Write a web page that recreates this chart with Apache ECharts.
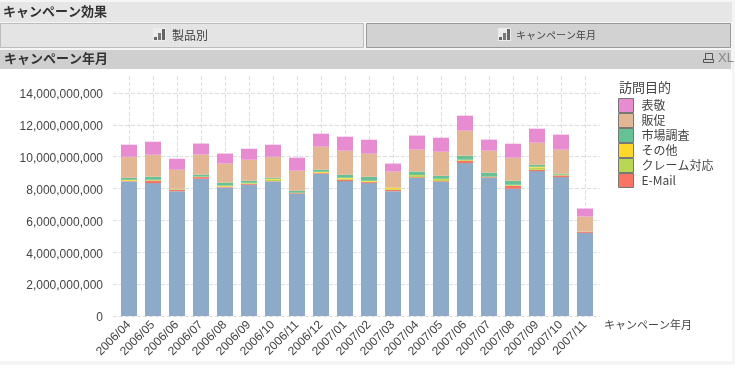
<!DOCTYPE html>
<html>
<head>
<meta charset="utf-8">
<title>キャンペーン効果</title>
<style>
html, body { margin: 0; padding: 0; background: #f5f5f5; }
#chart { width: 735px; height: 365px; }
</style>
<script src="https://cdn.jsdelivr.net/npm/echarts@6/dist/echarts.min.js"></script>
</head>
<body>
<div id="chart"></div>
<script>
// 値はすべて百万単位で読み取り
const months = ['2006/04', '2006/05', '2006/06', '2006/07', '2006/08', '2006/09', '2006/10', '2006/11', '2006/12', '2007/01',
    '2007/02', '2007/03', '2007/04', '2007/05', '2007/06', '2007/07', '2007/08', '2007/09', '2007/10', '2007/11'];
const baseVisit = [8447, 8342, 7839, 8615, 8070, 8237, 8447, 7671, 8929, 8468, 8342, 7839, 8677, 8426, 9600, 8677, 7986, 9097, 8719, 5220];
const email = [21, 147, 84, 105, 42, 63, 21, 42, 42, 84, 63, 84, 42, 42, 147, 42, 189, 84, 105, 63];
const claim = [21, 42, 30, 21, 10, 42, 84, 21, 21, 63, 21, 42, 126, 126, 42, 5, 42, 126, 42, 5];
const other = [63, 21, 10, 10, 63, 21, 63, 5, 63, 63, 63, 84, 10, 21, 21, 21, 21, 63, 5, 5];
const research = [126, 189, 21, 126, 189, 126, 63, 126, 126, 189, 252, 10, 210, 189, 252, 252, 252, 126, 63, 10];
const promo = [1320, 1383, 1195, 1258, 1195, 1320, 1320, 1258, 1446, 1509, 1446, 1006, 1383, 1509, 1572, 1383, 1446, 1383, 1509, 943];
const courtesy = [755, 817, 692, 692, 629, 692, 755, 817, 817, 880, 880, 503, 880, 880, 943, 692, 880, 880, 943, 503];

const legendOrder = ['表敬', '販促', '市場調査', 'その他', 'クレーム対応', 'E-Mail'];
const yTicks = [0, 2e9, 14e9];

const FONT = '"Noto Sans CJK JP", sans-serif';
const LATIN = '"Liberation Sans", Arial, sans-serif';
const INK = '#444';

function stacked(name, values, color) {
    return {
        name: name,
        type: 'bar',
        stack: 'visit',
        xAxisIndex: 0,
        yAxisIndex: 0,
        barWidth: 16,
        itemStyle: {color: color},
        emphasis: {disabled: true},
        data: values.map(function (v) { return v * 1e6; })
    };
}

function barIcon(x, y) {
    return [
        {type: 'rect', shape: {x: x, y: y, width: 13, height: 13}, style: {fill: '#ececec'}},
        {type: 'rect', shape: {x: x + 1, y: y + 9, width: 3, height: 3}, style: {fill: '#666'}},
        {type: 'rect', shape: {x: x + 5, y: y + 5, width: 3, height: 7}, style: {fill: '#777'}},
        {type: 'rect', shape: {x: x + 9, y: y + 1, width: 3, height: 11}, style: {fill: '#666'}}
    ];
}

function label(text, x, y, size, weight, color, font) {
    return {
        type: 'text', x: x, y: y,
        style: {text: text, fontSize: size, fontWeight: weight || 'normal', fill: color || INK, fontFamily: font || FONT, textVerticalAlign: 'middle'}
    };
}

const chrome = [
    {type: 'rect', silent: true, shape: {x: 0, y: 2, width: 732, height: 20}, style: {fill: '#e6e6e6'}},
    {type: 'rect', silent: true, shape: {x: 0.5, y: 23.5, width: 363, height: 24}, style: {fill: '#e4e4e4', stroke: '#bdbdbd', lineWidth: 1}},
    {type: 'rect', silent: true, shape: {x: 366.5, y: 23.5, width: 364, height: 24}, style: {fill: '#d2d2d2', stroke: '#999', lineWidth: 1}},
    {type: 'rect', silent: true, shape: {x: 0, y: 50, width: 731, height: 19}, style: {fill: '#cfcfcf'}},
    {type: 'rect', silent: true, shape: {x: 0, y: 69, width: 732, height: 292}, style: {fill: '#fff'}},
    label('キャンペーン効果', 3, 11, 13, 'bold', '#333'),
    label('製品別', 172, 35, 12),
    label('キャンペーン年月', 516, 35, 10),
    label('キャンペーン年月', 4, 58, 13, 'bold', '#333'),
    label('訪問目的', 619, 87, 13),
    label('XL', 718, 58, 13, 'normal', '#888', '"Liberation Sans Narrow", "Liberation Sans", sans-serif'),
    {type: 'rect', shape: {x: 705.5, y: 53.5, width: 7, height: 6}, style: {fill: 'none', stroke: '#555', lineWidth: 1}},
    {type: 'rect', shape: {x: 703.5, y: 59.5, width: 10, height: 3}, style: {fill: 'none', stroke: '#555', lineWidth: 1}}
].concat(barIcon(153, 28), barIcon(498, 28));

const myChart = echarts.init(document.getElementById('chart'));
myChart.setOption({
    animation: false,
    backgroundColor: '#f5f5f5',
    textStyle: {fontFamily: FONT},
    graphic: {elements: chrome.map(function (el) { el.z = -10; return el; })},
    legend: {
        orient: 'vertical',
        left: 618,
        top: 98,
        padding: 0,
        itemWidth: 15,
        itemHeight: 14,
        itemGap: 0,
        icon: 'rect',
        data: legendOrder,
        selectedMode: false,
        itemStyle: {borderColor: '#777', borderWidth: 1},
        textStyle: {fontSize: 12, lineHeight: 14, color: INK, fontFamily: FONT, padding: [0, 0, 0, 3]}
    },
    grid: [
        {left: 117, width: 480, top: 93, height: 223},  // bars
        {left: 113, width: 487, top: 93, height: 223},  // horizontal lines, y labels
        {left: 129, width: 456, top: 76, height: 240}   // vertical lines on bar centres
    ],
    xAxis: [
        {
            gridIndex: 0,
            type: 'category',
            data: months,
            axisLine: {show: false},
            axisTick: {show: false},
            axisLabel: {rotate: 45, interval: 0, fontSize: 12, color: INK, fontFamily: LATIN, margin: 7},
            name: 'キャンペーン年月',
            nameLocation: 'end',
            nameGap: 7,
            nameTextStyle: {fontSize: 11, color: INK, fontFamily: FONT, verticalAlign: 'top', padding: [3, 0, 0, 0]}
        },
        {gridIndex: 1, type: 'value', min: 0, max: 1, show: false},
        {
            gridIndex: 2,
            type: 'category',
            data: months,
            boundaryGap: false,
            axisLine: {show: false},
            axisTick: {show: false},
            axisLabel: {show: false},
            splitLine: {show: true, interval: 0, lineStyle: {color: '#ddd', type: 'dashed', width: 1}}
        }
    ],
    yAxis: [
        {gridIndex: 0, type: 'value', min: yTicks[0], max: yTicks[2], interval: yTicks[1], show: false},
        {
            gridIndex: 1,
            type: 'value',
            min: yTicks[0],
            max: yTicks[2],
            interval: yTicks[1],
            axisLine: {show: false},
            axisTick: {show: false},
            axisLabel: {fontSize: 12, color: INK, fontFamily: LATIN, margin: 10, verticalAlign: 'top', lineHeight: 4},
            splitLine: {show: true, lineStyle: {color: '#ddd', type: 'dashed', width: 1}}
        },
        {gridIndex: 2, type: 'value', min: 0, max: 1, show: false}
    ],
    series: [
        stacked('訪問', baseVisit, '#8eaac9'),
        stacked('E-Mail', email, '#fa7465'),
        stacked('クレーム対応', claim, '#b9d752'),
        stacked('その他', other, '#fdd82b'),
        stacked('市場調査', research, '#66c195'),
        stacked('販促', promo, '#e3b694'),
        stacked('表敬', courtesy, '#e88cd2')
    ]
});
</script>
</body>
</html>
